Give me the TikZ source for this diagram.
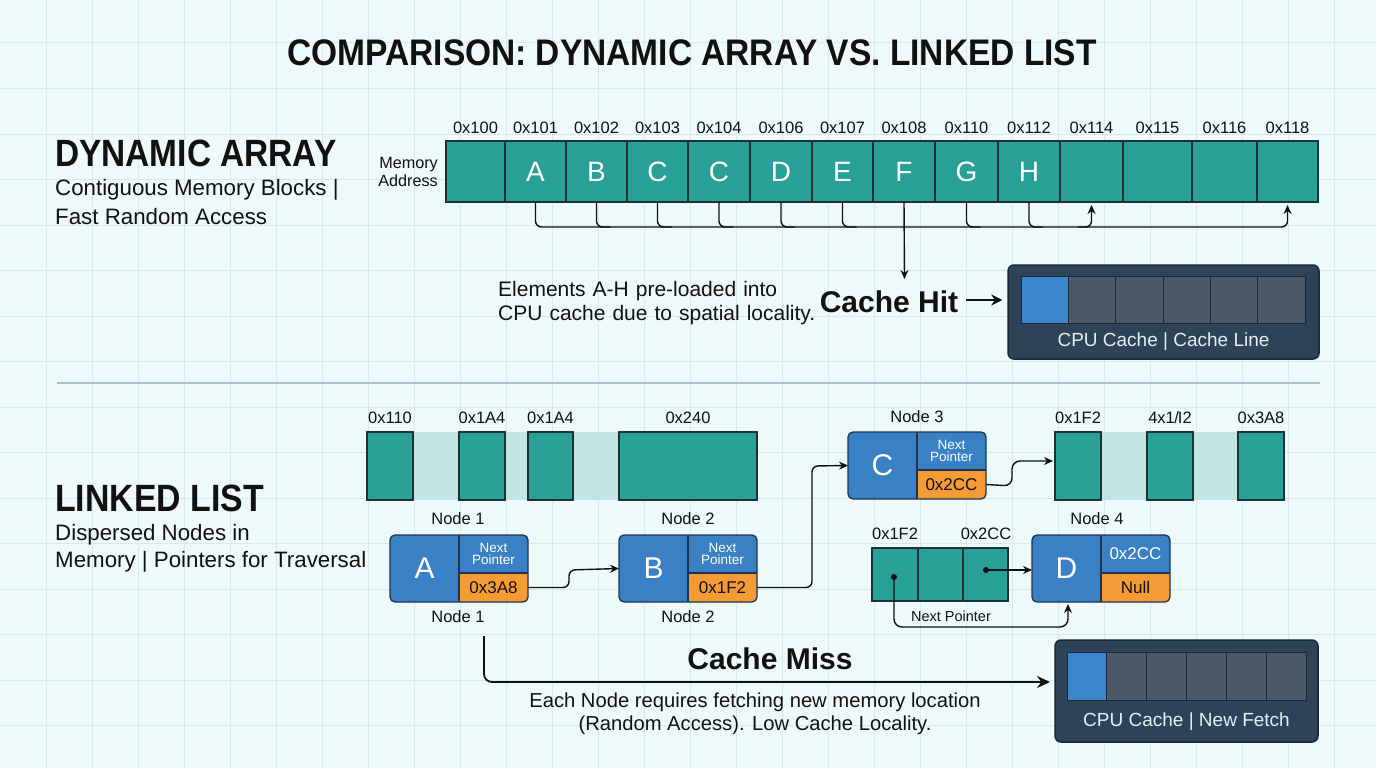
\documentclass[tikz,border=0pt]{standalone}
\usepackage{fontspec}
\setmainfont{Liberation Sans}
\usetikzlibrary{arrows.meta,calc}
\definecolor{bgc}{HTML}{EEF9F9}
\definecolor{gridc}{HTML}{D9E9EB}
\definecolor{tealc}{HTML}{28A098}
\definecolor{celledge}{HTML}{1B3236}
\definecolor{bandc}{HTML}{C3E4E4}
\definecolor{nblue}{HTML}{3A80C4}
\definecolor{nedge}{HTML}{1D3552}
\definecolor{norange}{HTML}{F49B36}
\definecolor{cachebg}{HTML}{2E4358}
\definecolor{cacheedge}{HTML}{1A2838}
\definecolor{cachecell}{HTML}{4A5867}
\definecolor{cacheblue}{HTML}{3B86CC}
\definecolor{sepc}{HTML}{A8C3CC}
\definecolor{ink}{HTML}{111111}
\definecolor{cachetext}{HTML}{E6EEF4}
\newcommand\fsz[1]{\fontsize{#1}{#1}\selectfont}
\newcommand\LLnode[6]{%
  \node[llbox] (#1) at (#2+69,#3+33.5) {};
  \begin{scope}
    \clip[rounded corners=5pt] (#1.south west) rectangle (#1.north east);
    \fill[norange] (#2+69,#3+38) rectangle (#2+138,#3+67);
  \end{scope}
  \draw[llline] (#2+69,#3) -- (#2+69,#3+67);
  \draw[llline] (#2+69,#3+38) -- (#2+138,#3+38);
  \draw[llline,rounded corners=5pt] (#1.south west) rectangle (#1.north east);
  \node[lletter] (#1-l) at (#2+34.5,#3+33.5) {#4};
  \node[lltop] (#1-t) at (#2+103.5,#3+19) {#5};
  \node[llbot] (#1-b) at (#2+103.5,#3+52.5) {#6};
}
\begin{document}
\begin{tikzpicture}[x=1pt,y=-1pt,
  cell/.style={draw=celledge,fill=tealc,line width=1.3pt,inner sep=0pt,outer sep=0pt,text=white,font=\fsz{28}},
  addr/.style={font=\fsz{16.5},text=ink,inner sep=1pt},
  conn/.style={draw=ink,line width=1.4pt},
  tipa/.style={-{Stealth[length=9pt,width=8pt]}},
  ccell/.style={draw=cacheedge,fill=cachecell,line width=1pt,inner sep=0pt,outer sep=0pt},
  cachebox/.style={draw=cacheedge,fill=cachebg,line width=1.5pt,rounded corners=6pt,inner sep=0pt},
  cachelab/.style={font=\fsz{19},text=cachetext},
  llbox/.style={fill=nblue,rounded corners=5pt,minimum width=138pt,minimum height=67pt,inner sep=0pt,outer sep=0pt},
  llline/.style={draw=nedge,line width=1.3pt},
  lletter/.style={font=\fsz{30},text=white},
  lltop/.style={font=\fsz{13.5},text=white,align=center,inner sep=0pt},
  llbot/.style={font=\fsz{17},text=ink,inner sep=0pt},
  heading/.style={font=\fsz{38}\bfseries,text=ink,anchor=west,inner sep=0pt},
  body/.style={font=\fsz{22.3},text=ink,anchor=west,inner sep=0pt},
  small/.style={font=\fsz{16.5},text=ink,inner sep=1pt},
  dotn/.style={circle,fill=ink,inner sep=0pt,minimum size=6pt},
]
\fill[bgc] (0,0) rectangle (1376,768);
\useasboundingbox (0,0) rectangle (1376,768);
\foreach \x in {46,92,...,1376} \draw[gridc,line width=1pt] (\x,0) -- (\x,768);
\foreach \y in {43,88.5,...,768} \draw[gridc,line width=1pt] (0,\y) -- (1376,\y);

% title
\node[font=\fsz{37}\bfseries,text=ink] (title) at (692,53) {\scalebox{0.905}[1]{COMPARISON: DYNAMIC ARRAY VS. LINKED LIST}};

% ---------- dynamic array ----------
\node[heading] (dah) at (55,153) {\scalebox{0.88}[1]{DYNAMIC ARRAY}};
\node[body] (das1) at (55,190) {Contiguous Memory Blocks |};
\node[body] (das2) at (55,217) {Fast Random Access};
\node[font=\fsz{16.2},text=ink,align=right,anchor=east,inner sep=0pt] (memaddr) at (438,172) {Memory\\[2pt]Address};

\foreach \a/\b/\lab/\ltr [count=\i] in {446/505/0x100/{},505/566/0x101/A,566/627/0x102/B,627/688/0x103/C,688/750/0x104/C,750/812/0x106/D,812/873/0x107/E,873/935/0x108/F,935/998/0x110/G,998/1060/0x112/H,1060/1123/0x114/{},1123/1192/0x115/{},1192/1257/0x116/{},1257/1318/0x118/{}}{
  \pgfmathsetmacro\w{\b-\a}
  \pgfmathsetmacro\cx{(\a+\b)/2}
  \node[cell,minimum width=\w pt,minimum height=61pt] (c\i) at (\cx,171.5) {\ltr};
  \node[addr] (a\i) at (\cx,128) {\lab};
}

% bracket connectors
\draw[conn,rounded corners=6pt,tipa] (c2.south) |- ($(c14.south)+(0,25)$) -- ($(c14.south)+(0,3)$);
\draw[conn,rounded corners=6pt,tipa] ($(c11.south)+(-14,25)$) -- ($(c11.south)+(0,25)$) -- ($(c11.south)+(0,3)$);
\foreach \i in {3,4,5,6,7,9,10} \draw[conn,rounded corners=6pt] (c\i.south) |- ++(14,25);
\coordinate (hitTip) at (904.5,279);
\draw[conn,tipa] (c8.south) -- (hitTip);

% cache hit
\node[body,align=left,font=\fsz{21},text width=320pt] (hittext) at (498,303.5) {Elements A-H pre-loaded into\\[3pt]CPU cache due to spatial locality.};
\node[font=\fsz{30}\bfseries,text=ink,inner sep=0pt] (hit) at (889,302) {Cache Hit};
\node[cachebox,minimum width=311pt,minimum height=94pt] (cache1) at (1163.5,312) {};
\draw[ink,line width=2.6pt,-{Stealth[length=11pt,width=11pt]}] ($(hit.east)+(8,-2)$) -- ($(cache1.west)+(-5,-12)$);
\foreach \k in {0,...,5}{
  \node[ccell,minimum width=47.33pt,minimum height=47pt] (h\k) at (1021+23.67+47.33*\k,299.5) {};
}
\node[ccell,fill=cacheblue,minimum width=47.33pt,minimum height=47pt] (h0b) at (1044.67,299.5) {};
\node[cachelab] (cl1) at (1163.5,342) {CPU Cache | Cache Line};

% separator
\draw[sepc,line width=1.2pt] (57,383) -- (1320,383);

% ---------- linked list ----------
\node[heading] (llh) at (55,498) {\scalebox{0.89}[1]{LINKED LIST}};
\node[body] (lls1) at (55,535) {Dispersed Nodes in};
\node[body] (lls2) at (55,562) {Memory | Pointers for Traversal};

% top memory row
\fill[bandc] (413,432) rectangle (619,500);
\fill[bandc] (1101,432) rectangle (1239,500);
\foreach \a/\b/\lab/\nm in {367/413/0x110/m1,459/505/0x1A4/m2,528/573/0x1A4/m3,619/757/0x240/m4,1055/1101/0x1F2/r1,1147/1193/{4x1\kern-0.5pt/\kern-1pt I2}/r2,1238/1284/0x3A8/r3}{
  \pgfmathsetmacro\w{\b-\a}
  \pgfmathsetmacro\cx{(\a+\b)/2}
  \node[cell,minimum width=\w pt,minimum height=68pt] (\nm) at (\cx,466) {};
  \node[addr] (\nm-a) at (\cx,418) {\lab};
}

% nodes
\LLnode{n1}{390}{535}{A}{Next\\[-1pt]Pointer}{0x3A8}
\LLnode{n2}{619}{535}{B}{Next\\[-1pt]Pointer}{0x1F2}
\LLnode{n3}{848}{432}{C}{Next\\[-1pt]Pointer}{0x2CC}
\LLnode{n4}{1032}{535}{D}{\fsz{17}0x2CC}{Null}

\node[small] (n1up) at (458,519) {Node 1};
\node[small] (n1dn) at (458,617) {Node 1};
\node[small] (n2up) at (688,519) {Node 2};
\node[small] (n2dn) at (688,617) {Node 2};
\node[small] (n3up) at (917,417) {Node 3};
\node[small] (n4up) at (1097,519) {Node 4};

% pointer arrows
\draw[conn,rounded corners=6pt,tipa] (n1.east |- n1-b) -- (569,587.5) -- (569,570) -- (n2.west);
\coordinate (bc) at (812,466);
\draw[conn,rounded corners=6pt,tipa] (n2.east |- n2-b) -| (bc) -- (n3.west);
\coordinate (c3end) at (1053,461);
\draw[conn,rounded corners=8pt,tipa] (n3.east |- n3-b) -- (1012,486) -- (1012,461) -- (c3end);

% node 4 memory
\foreach \a/\b/\nm in {872/918/q1,918/963/q2,963/1008/q3}{
  \pgfmathsetmacro\w{\b-\a}
  \pgfmathsetmacro\cx{(\a+\b)/2}
  \node[cell,minimum width=\w pt,minimum height=53pt] (\nm) at (\cx,574.5) {};
}
\node[addr] (q1a) at (895,534) {0x1F2};
\node[addr] (q3a) at (986,534) {0x2CC};
\node[dotn] (dot1) at (894,577) {};
\node[dotn] (dot2) at (986,570) {};
\draw[conn,tipa] (dot2) -- (n4.west |- dot2);
\coordinate (np) at (1068,627);
\draw[conn,rounded corners=8pt,tipa] (dot1.center) |- (np) -- ($(np |- n4.south)+(0,2)$);
\node[font=\fsz{14.5},text=ink] (nptext) at (951,616) {Next Pointer};

% cache miss
\coordinate (missStart) at (484,636);
\coordinate (missEnd) at (1050,682);
\draw[ink,line width=1.8pt,rounded corners=8pt,-{Stealth[length=13pt,width=12pt]}] (missStart) |- (missEnd);
\node[font=\fsz{30}\bfseries,text=ink,inner sep=0pt] (miss) at (770,659) {Cache Miss};
\node[font=\fsz{20.2},text=ink,align=center,inner sep=0pt] (misstext) at (755,714) {Each Node requires fetching new memory location\\[3pt](Random Access). Low Cache Locality.};
\node[cachebox,minimum width=263pt,minimum height=102pt] (cache2) at (1186.5,691) {};
\foreach \k in {0,...,5}{
  \node[ccell,minimum width=39.83pt,minimum height=48pt] (g\k) at (1067+19.92+39.83*\k,676) {};
}
\node[ccell,fill=cacheblue,minimum width=39.83pt,minimum height=48pt] (g0b) at (1086.92,676) {};
\node[cachelab] (cl2) at (1186.5,722) {CPU Cache | New Fetch};
\end{tikzpicture}
\end{document}
